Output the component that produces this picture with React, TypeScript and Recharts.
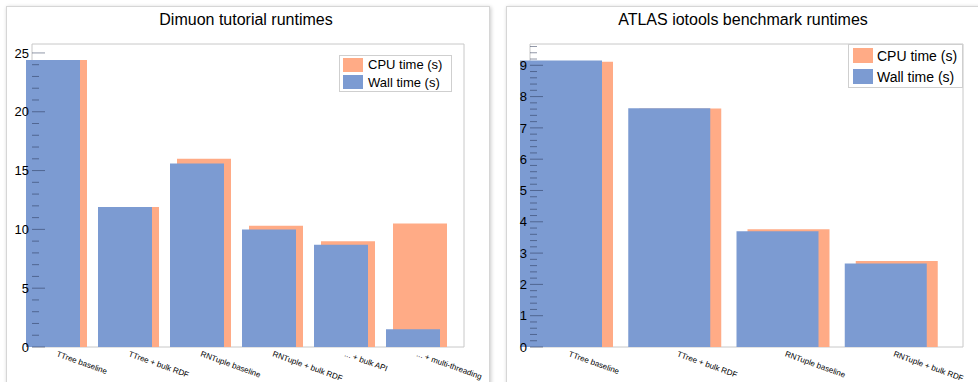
import React from 'react';
import { BarChart, Bar, XAxis, YAxis, ReferenceArea } from 'recharts';

const dimuonLabels = ['TTree baseline', 'TTree + bulk RDF', 'RNTuple baseline', 'RNTuple + bulk RDF', '... + bulk API', '... + multi-threading'];
const dimuonCpu = [24.4, 11.9, 16.0, 10.3, 9.0, 10.5];
const dimuonWall = [24.4, 11.9, 15.6, 10.0, 8.7, 1.5];
const dimuonTicks = [0, 5, 10, 15, 20, 25];

const atlasLabels = ['TTree baseline', 'TTree + bulk RDF', 'RNTuple baseline', 'RNTuple + bulk RDF'];
const atlasCpu = [9.11, 7.62, 3.76, 2.75];
const atlasWall = [9.15, 7.63, 3.7, 2.67];
const atlasTicks = [0, 1, 2, 3, 4, 5, 6, 7, 8, 9];

const seriesNames = ['CPU time (s)', 'Wall time (s)'];

const CPU_COLOR = '#ffab86';
const WALL_COLOR = '#7c9bd2';
const FONT = '"Liberation Sans", Arial, Helvetica, sans-serif';

// minor tick positions, majors are included in the list
function buildTicks(max: number, step: number) {
  const out: number[] = [];
  for (let i = 0; i * step <= max + 1e-9; i++) out.push(+(i * step).toFixed(3));
  return out;
}

function YTick(props: any) {
  const { x, y, payload, majors } = props;
  const v = payload.value;
  const isMajor = majors.some((m: number) => Math.abs(m - v) < 1e-6);
  return (
    <g>
      <line x1={x} x2={x + (isMajor ? 13 : 7)} y1={y} y2={y} stroke="#263252" strokeOpacity={0.5} />
      {isMajor && (
        <text x={x - 3} y={y} dy="0.36em" textAnchor="end" fontSize={13} fontFamily={FONT} fill="#000">
          {v}
        </text>
      )}
    </g>
  );
}

function XTick(props: any) {
  const { x, y, payload, dx } = props;
  const px = x + dx;
  return (
    <text x={px} y={y} transform={`rotate(20 ${px} ${y})`} textAnchor="start" fontSize={8} fontFamily={FONT} fill="#000">
      {payload.value}
    </text>
  );
}

function RuntimeChart(p: any) {
  const data = p.labels.map((label: string, i: number) => ({ label, cpu: p.cpu[i], wall: p.wall[i] }));
  const ticks = buildTicks(p.yMax, p.minorStep);
  return (
    <BarChart
      width={p.width}
      height={382}
      data={data}
      margin={{ top: 44, right: p.marginRight, bottom: 0, left: 0 }}
      barGap={p.barGap}
    >
      <ReferenceArea y1={0} y2={p.yMax} fill="none" stroke="#c8c8c8" ifOverflow="visible" />
      <Bar xAxisId="bars" dataKey="cpu" name={seriesNames[0]} fill={CPU_COLOR} barSize={p.barSize} isAnimationActive={false} />
      <Bar xAxisId="bars" dataKey="wall" name={seriesNames[1]} fill={WALL_COLOR} barSize={p.barSize} isAnimationActive={false} />
      <XAxis
        dataKey="label"
        axisLine={false}
        tickLine={false}
        tickSize={0}
        tickMargin={9}
        height={35}
        interval={0}
        tick={(t: any) => <XTick {...t} dx={p.labelDx} />}
      />
      <XAxis xAxisId="bars" dataKey="label" hide padding={{ left: -p.shift, right: p.shift }} />
      <YAxis
        type="number"
        domain={[0, p.yMax]}
        ticks={ticks}
        interval={0}
        allowDataOverflow
        axisLine={false}
        tickLine={false}
        tickSize={0}
        tickMargin={0}
        width={p.yAxisWidth}
        tick={(t: any) => <YTick {...t} majors={p.majors} />}
      />
    </BarChart>
  );
}

function LegendBox(p: any) {
  const colors = [CPU_COLOR, WALL_COLOR];
  return (
    <div
      style={{
        position: 'absolute', left: p.left, top: p.top, width: p.width, height: p.height,
        boxSizing: 'border-box', border: '1px solid #cfcfcf', background: '#fff',
        fontFamily: FONT, fontSize: p.fontSize, color: '#000', paddingTop: p.padTop,
      }}
    >
      {seriesNames.map((name, i) => (
        <div key={name} style={{ height: p.rowH, display: 'flex', alignItems: 'center' }}>
          <div style={{ width: 20, height: p.swatchH, marginLeft: p.swatchLeft, background: colors[i] }} />
          <span style={{ marginLeft: p.textGap, whiteSpace: 'nowrap' }}>{name}</span>
        </div>
      ))}
    </div>
  );
}

const panelStyle: React.CSSProperties = {
  position: 'absolute', top: 6, height: 400, boxSizing: 'border-box', background: '#fff',
  border: '1px solid #d6d6d6', boxShadow: '1px 1px 4px rgba(0,0,0,0.22)',
};

const titleStyle: React.CSSProperties = {
  position: 'absolute', top: 11.5, lineHeight: '16px', fontSize: 16, fontFamily: FONT,
  textAlign: 'center', color: '#000', whiteSpace: 'nowrap',
};

export default function App() {
  return (
    <div style={{ position: 'absolute', left: 0, top: 0, width: 978, height: 382, overflow: 'hidden', background: '#fff' }}>
      <div style={{ ...panelStyle, left: 6, width: 484 }} />
      <div style={{ ...panelStyle, left: 506, width: 480 }} />

      <div style={{ position: 'absolute', left: 0, top: 0 }}>
        <RuntimeChart
          labels={dimuonLabels} cpu={dimuonCpu} wall={dimuonWall} majors={dimuonTicks}
          yMax={25.76} minorStep={1} width={490} yAxisWidth={32} marginRight={26}
          barSize={54} barGap={-61} shift={12} labelDx={-12}
        />
      </div>
      <div style={{ position: 'absolute', left: 490, top: 0 }}>
        <RuntimeChart
          labels={atlasLabels} cpu={atlasCpu} wall={atlasWall} majors={atlasTicks}
          yMax={9.68} minorStep={0.2} width={488} yAxisWidth={40} marginRight={15}
          barSize={82} barGap={-93} shift={18} labelDx={-16}
        />
      </div>

      <div style={{ ...titleStyle, left: 0, width: 492 }}>Dimuon tutorial runtimes</div>
      <div style={{ ...titleStyle, left: 490, width: 506 }}>ATLAS iotools benchmark runtimes</div>

      <LegendBox left={339} top={55} width={113} height={37} fontSize={13} padTop={0} rowH={17.5} swatchH={14} swatchLeft={3} textGap={5} />
      <LegendBox left={848} top={44} width={115} height={44} fontSize={14} padTop={0} rowH={21} swatchH={15} swatchLeft={4} textGap={4} />
    </div>
  );
}
